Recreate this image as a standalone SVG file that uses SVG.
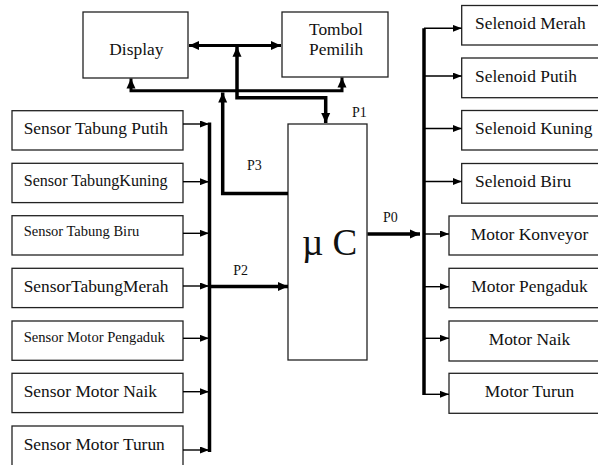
<svg xmlns="http://www.w3.org/2000/svg" width="598" height="465" viewBox="0 0 598 465">
<defs>
<style>
.box{fill:#fff;stroke:#222;stroke-width:1.3}
text{fill:#111;font-size:17.4px}
.lbl{font-size:14px}
.thin{fill:none;stroke:#000;stroke-width:1.4}
.thick{fill:none;stroke:#000;stroke-width:3.5}
.mid{fill:none;stroke:#000;stroke-width:3}
</style>
<marker id="ah" markerUnits="userSpaceOnUse" markerWidth="9" markerHeight="7" refX="9" refY="3.5" orient="auto-start-reverse" viewBox="0 0 9 7">
<path d="M0,0 L9,3.5 L0,7 z" fill="#000"/>
</marker>
<marker id="ahb" markerUnits="userSpaceOnUse" markerWidth="10" markerHeight="10" refX="10" refY="5" orient="auto-start-reverse" viewBox="0 0 10 10">
<path d="M0,0.5 L10,5 L0,9.5 z" fill="#000"/>
</marker>
</defs>
<g font-family="Liberation Serif, Times New Roman, Times, DejaVu Serif, serif">
<g id="display"><rect class="box" x="83" y="12" width="105" height="66"/><text x="109.3" y="55">Display</text></g>
<g id="tombol"><rect class="box" x="282" y="12" width="106" height="65"/><text x="309" y="35">Tombol</text><text x="309" y="55">Pemilih</text></g>
<g id="uc"><rect class="box" x="288" y="124" width="79" height="236"/><text x="302" y="255" style="font-size:37px">µ C</text></g>

<g id="s1"><rect class="box" x="12" y="110.7" width="171" height="39.3"/><text x="23.7" y="134.3">Sensor Tabung Putih</text></g>
<g id="s2"><rect class="box" x="12" y="163.3" width="171" height="39.3"/><text x="23.7" y="186" style="font-size:16.1px">Sensor TabungKuning</text></g>
<g id="s3"><rect class="box" x="12" y="215.7" width="171" height="39.3"/><text x="23.7" y="236" style="font-size:14.5px">Sensor Tabung Biru</text></g>
<g id="s4"><rect class="box" x="12" y="268.3" width="171" height="39.3"/><text x="23.7" y="292.3">SensorTabungMerah</text></g>
<g id="s5"><rect class="box" x="12" y="321" width="171" height="39.3"/><text x="23.7" y="341.7" style="font-size:14.6px">Sensor Motor Pengaduk</text></g>
<g id="s6"><rect class="box" x="12" y="373.3" width="171" height="39.3"/><text x="23.7" y="397.3">Sensor Motor Naik</text></g>
<g id="s7"><rect class="box" x="12" y="426" width="171" height="50"/><text x="23.7" y="450">Sensor Motor Turun</text></g>

<g id="o1"><rect class="box" x="461.7" y="5.5" width="150" height="39.5"/><text x="475" y="29">Selenoid Merah</text></g>
<g id="o2"><rect class="box" x="461.7" y="58" width="150" height="39.7"/><text x="475" y="81.7">Selenoid Putih</text></g>
<g id="o3"><rect class="box" x="461.7" y="110.5" width="150" height="39.5"/><text x="475" y="134">Selenoid Kuning</text></g>
<g id="o4"><rect class="box" x="461.7" y="163.5" width="150" height="39.7"/><text x="475" y="186.7">Selenoid Biru</text></g>
<g id="o5"><rect class="box" x="449" y="216" width="160" height="39"/><text x="529.5" y="240" text-anchor="middle">Motor Konveyor</text></g>
<g id="o6"><rect class="box" x="449" y="268.3" width="160" height="39.4"/><text x="529.5" y="292.3" text-anchor="middle">Motor Pengaduk</text></g>
<g id="o7"><rect class="box" x="449" y="321" width="160" height="40"/><text x="529.5" y="345" text-anchor="middle">Motor Naik</text></g>
<g id="o8"><rect class="box" x="449" y="373.3" width="160" height="40"/><text x="529.5" y="397.3" text-anchor="middle">Motor Turun</text></g>

<g id="connectors">
<path class="thin" d="M183,124 H209" marker-end="url(#ah)"/>
<path class="thin" d="M183,181.7 H209" marker-end="url(#ah)"/>
<path class="thin" d="M183,233.3 H209" marker-end="url(#ah)"/>
<path class="thin" d="M183,286 H209" marker-end="url(#ah)"/>
<path class="thin" d="M183,338.3 H209" marker-end="url(#ah)"/>
<path class="thin" d="M183,391.7 H209" marker-end="url(#ah)"/>
<path class="thin" d="M183,450 H209" marker-end="url(#ah)"/>
<path class="thick" d="M209.5,122.5 V452"/>
<path class="thick" d="M209.5,286.5 H288" marker-end="url(#ahb)"/>
<path class="thick" d="M288,193.5 H222.7 V92.5" marker-end="url(#ahb)"/>
<path class="mid" d="M131,78.5 V90.7 H342 V77.5" marker-start="url(#ahb)" marker-end="url(#ahb)"/>
<path class="mid" d="M189,45.5 H281" marker-start="url(#ahb)" marker-end="url(#ahb)"/>
<path class="thick" d="M325.7,123 V97.7 H237 V46.7" marker-start="url(#ahb)" marker-end="url(#ahb)"/>
<path class="thick" d="M367.5,234 H420" marker-end="url(#ahb)"/>
<path class="thick" d="M424,28.3 V395"/>
<path class="thin" d="M424,28.3 H461.7" marker-end="url(#ah)"/>
<path class="thin" d="M424,76 H461.7" marker-end="url(#ah)"/>
<path class="thin" d="M424,128.5 H461.7" marker-end="url(#ah)"/>
<path class="thin" d="M424,181.5 H461.7" marker-end="url(#ah)"/>
<path class="thin" d="M424,234 H449" marker-end="url(#ah)"/>
<path class="thin" d="M424,286.7 H449" marker-end="url(#ah)"/>
<path class="thin" d="M424,338.3 H449" marker-end="url(#ah)"/>
<path class="thin" d="M424,394.3 H449" marker-end="url(#ah)"/>
<text class="lbl" x="352" y="117">P1</text>
<text class="lbl" x="247" y="170">P3</text>
<text class="lbl" x="233.3" y="275">P2</text>
<text class="lbl" x="383" y="222">P0</text>
</g>
</g>
</svg>
